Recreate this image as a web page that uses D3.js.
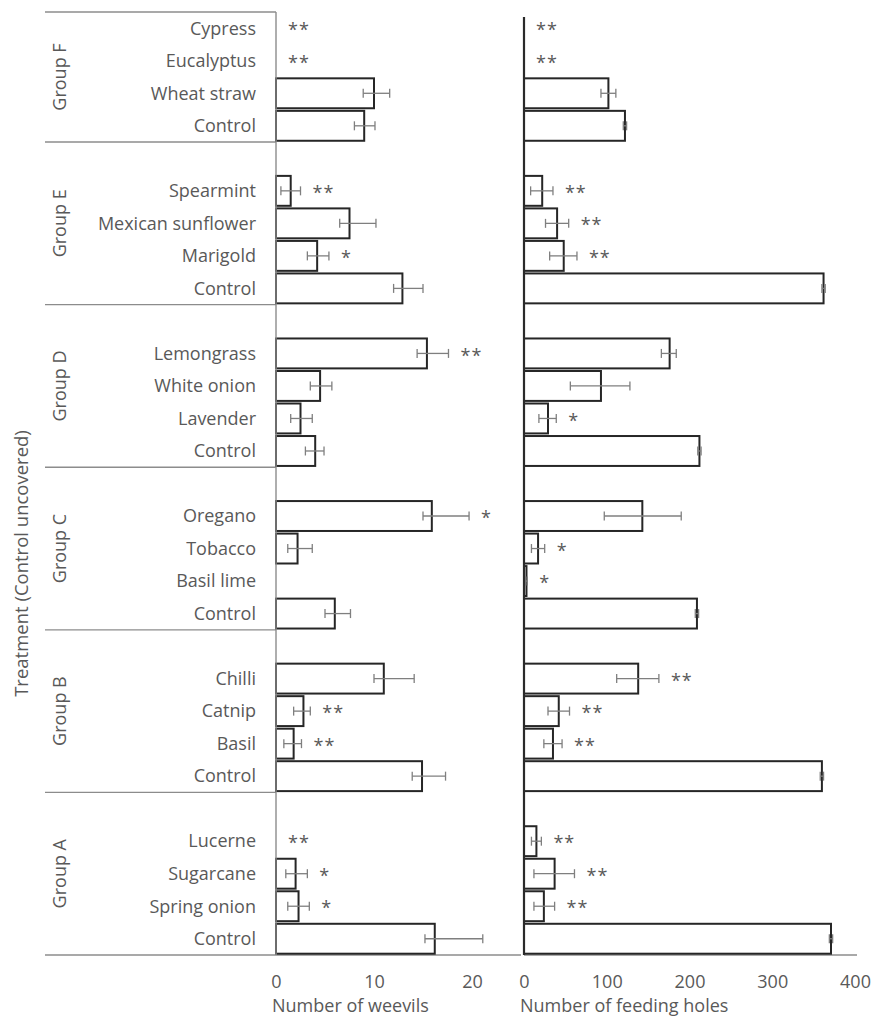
<!DOCTYPE html>
<html>
<head>
<meta charset="utf-8">
<script src="https://cdn.jsdelivr.net/npm/d3@7"></script>
<style>
  body { margin: 0; background: #fff; }
  text { font-family: "Open Sans", sans-serif; fill: #595959; }
</style>
</head>
<body>
<div id="viz"></div>
<script>
const width = 875;
const height = 1019;

// groups, top to bottom, four treatments each
const groups = ['Group F', 'Group E', 'Group D', 'Group C', 'Group B', 'Group A'];
const treatments = [
    'Cypress', 'Eucalyptus', 'Wheat straw', 'Control',
    'Spearmint', 'Mexican sunflower', 'Marigold', 'Control',
    'Lemongrass', 'White onion', 'Lavender', 'Control',
    'Oregano', 'Tobacco', 'Basil lime', 'Control',
    'Chilli', 'Catnip', 'Basil', 'Control',
    'Lucerne', 'Sugarcane', 'Spring onion', 'Control'
];

// number of weevils (mean, error bar low / high end)
const weevils     = [0, 0, 10.0, 9.0,   1.5, 7.5, 4.2, 12.9,   15.4, 4.5, 2.5, 4.0,   15.9, 2.2, 0, 6.0,   11.0, 2.8, 1.8, 14.9,   0, 2.0, 2.3, 16.2];
const weevilsLow  = [null, null, 8.9, 8.0,   0.5, 6.5, 3.2, 12.0,   14.4, 3.5, 1.5, 3.0,   15.0, 1.2, null, 5.0,   10.0, 1.8, 0.8, 13.9,   null, 1.0, 1.2, 15.2];
const weevilsHigh = [null, null, 11.6, 10.1,   2.5, 10.2, 5.4, 15.0,   17.6, 5.7, 3.7, 4.9,   19.7, 3.7, null, 7.6,   14.1, 3.5, 2.6, 17.3,   null, 3.2, 3.4, 21.1];
const weevilsSig  = ['**', '**', '', '',   '**', '', '*', '',   '**', '', '', '',   '*', '', '', '',   '', '**', '**', '',   '**', '*', '*', ''];

// number of feeding holes
const holes     = [0, 0, 102, 122,   22, 40, 48, 362,   176, 93, 29, 212,   143, 17, 3, 209,   138, 42, 35, 360,   15, 37, 24, 371];
const holesLow  = [null, null, 93, 120,   8, 26, 31, 360,   166, 56, 18, 210,   97, 9, 2, 207,   112, 29, 24, 358,   9, 12, 12, 369];
const holesHigh = [null, null, 111, 124,   35, 54, 64, 364,   184, 128, 39, 214,   190, 25, 4, 211,   163, 55, 46, 362,   21, 61, 37, 373];
const holesSig  = ['**', '**', '', '',   '**', '**', '**', '',   '', '', '*', '',   '', '*', '*', '',   '**', '**', '**', '',   '**', '**', '**', ''];

const weevilTicks = [0, 10, 20];
const holeTicks = [0, 100, 200, 300, 400];

// rows: every group but the first starts with an empty slot
const slots = [];
const rows = [];
groups.forEach((g, gi) => {
    if (gi > 0) slots.push(g + '|blank');
    for (let k = 0; k < 4; k++) {
        const i = gi * 4 + k;
        const key = g + '|' + i;
        slots.push(key);
        rows.push({
            key: key, group: g, label: treatments[i],
            w: weevils[i], wLo: weevilsLow[i], wHi: weevilsHigh[i], wSig: weevilsSig[i],
            h: holes[i], hLo: holesLow[i], hHi: holesHigh[i], hSig: holesSig[i]
        });
    }
});

const yScale = d3.scaleBand()
    .domain(slots)
    .range([12, 955])
    .paddingInner(0.08)
    .paddingOuter(0.04);
const step = yScale.step();
const slotTop = key => yScale(key) - step * 0.04;
const slotMid = key => yScale(key) + yScale.bandwidth() / 2;

const xWeevils = d3.scaleLinear().domain([0, 25]).range([276, 521]);
const xHoles = d3.scaleLinear().domain([0, 400]).range([524, 855]);

const svg = d3.select('#viz')
    .append('svg')
        .attr('width', width)
        .attr('height', height)
        .attr('viewBox', [0, 0, width, height]);

const gridColor = '#8c8c8c';

// group lines on the left
const groupBounds = groups.map((g, gi) => {
    const keys = slots.filter(s => s.startsWith(g + '|'));
    const top = slotTop(keys[0]);
    const bottom = slotTop(keys[keys.length - 1]) + step;
    return {group: g, top: top, bottom: bottom};
});

svg.append('g')
    .selectAll('line')
    .data(groupBounds.map(d => d.top))
    .join('line')
        .attr('x1', 45)
        .attr('x2', xWeevils(0))
        .attr('y1', d => d)
        .attr('y2', d => d)
        .attr('stroke', gridColor)
        .attr('stroke-width', 1.4);

// bottom baselines
const yBottom = groupBounds[groupBounds.length - 1].bottom;
svg.append('line')
    .attr('x1', 45).attr('x2', xWeevils.range()[1])
    .attr('y1', yBottom).attr('y2', yBottom)
    .attr('stroke', gridColor).attr('stroke-width', 1.4);
svg.append('line')
    .attr('x1', xHoles(0)).attr('x2', xHoles.range()[1] + 2)
    .attr('y1', yBottom).attr('y2', yBottom)
    .attr('stroke', gridColor).attr('stroke-width', 1.4);

// group labels
svg.append('g')
    .selectAll('text')
    .data(groupBounds)
    .join('text')
        .attr('transform', d => `translate(60,${(d.top + d.bottom) / 2}) rotate(-90)`)
        .attr('text-anchor', 'middle')
        .attr('dy', '0.35em')
        .style('font-size', '18px')
        .text(d => d.group);

// treatment labels
svg.append('g')
    .selectAll('text')
    .data(rows)
    .join('text')
        .attr('x', 256)
        .attr('y', d => slotMid(d.key))
        .attr('dy', '0.35em')
        .attr('text-anchor', 'end')
        .style('font-size', '18px')
        .text(d => d.label);

// y axis title
svg.append('text')
    .attr('transform', `translate(22,${(12 + yBottom) / 2 + 80}) rotate(-90)`)
    .attr('text-anchor', 'middle')
    .attr('dy', '0.35em')
    .style('font-size', '18.5px')
    .text('Treatment (Control uncovered)');

function drawPanel(x, val, lo, hi, sig, ticks, title, axisColor, axisWidth, axisTop) {
    const panel = svg.append('g');

    // bars
    panel.append('g')
        .selectAll('rect')
        .data(rows.filter(d => d[val] > 0))
        .join('rect')
            .attr('x', x(0))
            .attr('y', d => yScale(d.key))
            .attr('width', d => x(d[val]) - x(0))
            .attr('height', yScale.bandwidth())
            .attr('fill', '#fff')
            .attr('stroke', '#262626')
            .attr('stroke-width', 2);

    // error bars
    const err = panel.append('g')
        .attr('stroke', '#7f7f7f')
        .attr('stroke-width', 1.3)
        .selectAll('g')
        .data(rows.filter(d => d[lo] != null))
        .join('g');
    err.append('line')
        .attr('x1', d => x(d[lo])).attr('x2', d => x(d[hi]))
        .attr('y1', d => slotMid(d.key)).attr('y2', d => slotMid(d.key));
    err.append('line')
        .attr('x1', d => x(d[lo])).attr('x2', d => x(d[lo]))
        .attr('y1', d => slotMid(d.key) - 4.5).attr('y2', d => slotMid(d.key) + 4.5);
    err.append('line')
        .attr('x1', d => x(d[hi])).attr('x2', d => x(d[hi]))
        .attr('y1', d => slotMid(d.key) - 4.5).attr('y2', d => slotMid(d.key) + 4.5);

    // significance stars
    panel.append('g')
        .selectAll('text')
        .data(rows.filter(d => d[sig]))
        .join('text')
            .attr('x', d => x(Math.max(d[val], d[hi] == null ? 0 : d[hi])) + 12)
            .attr('y', d => slotMid(d.key))
            .attr('dy', '0.45em')
            .style('font-size', '18px')
            .style('letter-spacing', '1px')
            .text(d => d[sig]);

    // value axis line
    panel.append('line')
        .attr('x1', x(0)).attr('x2', x(0))
        .attr('y1', axisTop).attr('y2', yBottom)
        .attr('stroke', axisColor)
        .attr('stroke-width', axisWidth);

    // tick labels
    const axis = panel.append('g')
        .attr('transform', `translate(0,${yBottom})`)
        .call(d3.axisBottom(x).tickValues(ticks).tickSize(0).tickPadding(20));
    axis.select('.domain').remove();
    axis.selectAll('text')
        .attr('fill', null)
        .style('font-size', '18px')
        .style('font-family', '"Open Sans", sans-serif');

    panel.append('text')
        .attr('x', x(0) - 4)
        .attr('y', 1012)
        .style('font-size', '18px')
        .text(title);
}

drawPanel(xWeevils, 'w', 'wLo', 'wHi', 'wSig', weevilTicks, 'Number of weevils', gridColor, 1.4, 12);
drawPanel(xHoles, 'h', 'hLo', 'hHi', 'hSig', holeTicks, 'Number of feeding holes', '#2a2a2a', 2.2, 17);
</script>
</body>
</html>
